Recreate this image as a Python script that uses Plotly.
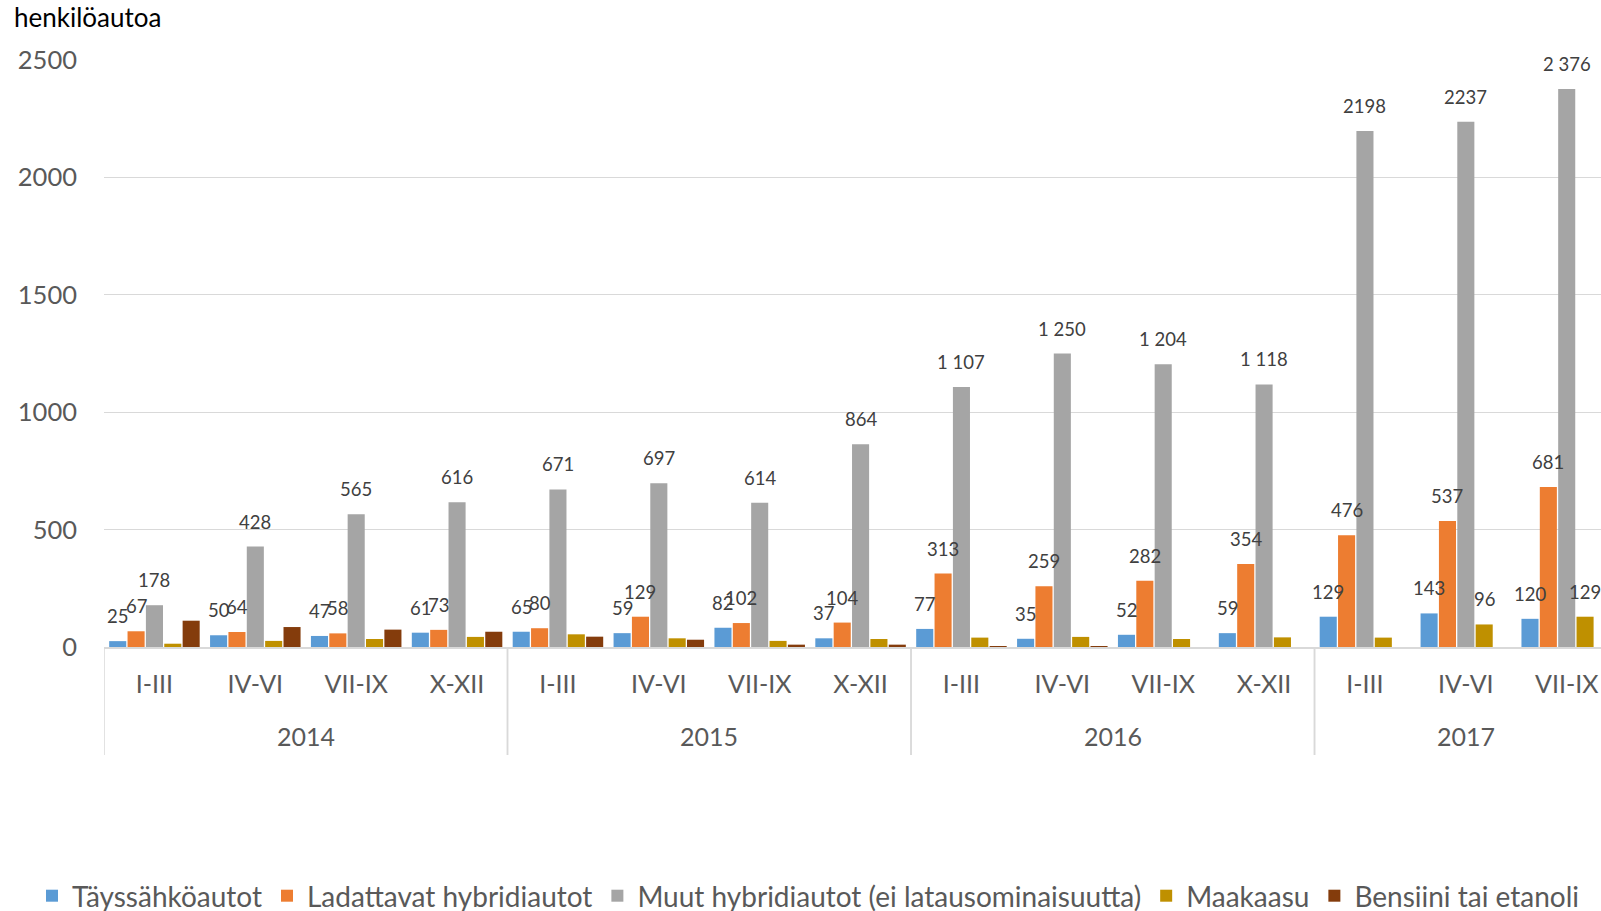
import plotly.graph_objects as go

# ---------------- data ----------------
years = ["2014"] * 4 + ["2015"] * 4 + ["2016"] * 4 + ["2017"] * 3
quarters = ["I-III", "IV-VI", "VII-IX", "X-XII"] * 3 + ["I-III", "IV-VI", "VII-IX"]

series_names = [
    "Täyssähköautot",
    "Ladattavat hybridiautot",
    "Muut hybridiautot (ei latausominaisuutta)",
    "Maakaasu",
    "Bensiini tai etanoli",
]
taysi = [25, 50, 47, 61, 65, 59, 82, 37, 77, 35, 52, 59, 129, 143, 120]
ladattavat = [67, 64, 58, 73, 80, 129, 102, 104, 313, 259, 282, 354, 476, 537, 681]
muut = [178, 428, 565, 616, 671, 697, 614, 864, 1107, 1250, 1204, 1118, 2198, 2237, 2376]
maakaasu = [14, 26, 34, 43, 54, 37, 26, 34, 40, 43, 34, 41, 40, 96, 129]
bensiini = [112, 85, 74, 65, 44, 31, 10, 10, 2, 2, 0, 0, 0, 0, 0]

labels_taysi = [str(v) for v in taysi]
labels_ladattavat = [str(v) for v in ladattavat]
labels_muut = ["178", "428", "565", "616", "671", "697", "614", "864",
               "1 107", "1 250", "1 204", "1 118", "2198", "2237", "2 376"]
labels_maakaasu = [""] * 13 + ["96", "129"]
labels_bensiini = [""] * 15

colors = ["#5B9BD5", "#ED7D31", "#A5A5A5", "#BF9000", "#843C0C"]
values = [taysi, ladattavat, muut, maakaasu, bensiini]
labels = [labels_taysi, labels_ladattavat, labels_muut, labels_maakaasu, labels_bensiini]

# ---------------- layout params ----------------
W, H = 1601, 911
ML, MR, MT, MB = 104, 0, 60, 264
BARGAP = 0.09
XRANGE = [-0.5, 14.34]
FONT = "Lato, Carlito, Calibri, sans-serif"
plot_w = W - ML - MR
plot_h = H - MT - MB


def py(px_from_top):
    """figure pixel row -> paper y"""
    return (H - MB - px_from_top) / plot_h


positions = list(range(len(quarters)))

fig = go.Figure()
for name, vals, col in zip(series_names, values, colors):
    fig.add_trace(go.Bar(
        name=name, x=positions, y=vals,
        marker=dict(color=col, line=dict(width=0)),
        hoverinfo="skip",
    ))

# data labels
px_per_unit = plot_w / (XRANGE[1] - XRANGE[0])
pitch_px = px_per_unit * (1 - BARGAP) / len(series_names)
annotations = []
for si, (vals, labs) in enumerate(zip(values, labels)):
    for pos, v, lab in zip(positions, vals, labs):
        if lab:
            annotations.append(dict(
                x=pos, y=v, xref="x", yref="y", text=lab, showarrow=False,
                yanchor="bottom", xanchor="center",
                xshift=(si - (len(series_names) - 1) / 2) * pitch_px, yshift=12,
                font=dict(family=FONT, size=18.5, color="#404040"),
            ))

# year labels and group dividers
year_order = []
for y in years:
    if y not in year_order:
        year_order.append(y)
shapes = []
for yr in year_order:
    idx = [p for p, y in zip(positions, years) if y == yr]
    annotations.append(dict(
        x=sum(idx) / len(idx), y=py(736), xref="x", yref="paper", text=yr,
        showarrow=False, xanchor="center", yanchor="middle",
        font=dict(family=FONT, size=25, color="#595959"),
    ))
    for b in (idx[0] - 0.5, idx[-1] + 0.5):
        shapes.append(dict(type="line", xref="x", yref="paper", x0=b, x1=b,
                           y0=0, y1=py(755), line=dict(color="#D9D9D9", width=1.5)))

annotations.append(dict(
    x=(12 - ML) / plot_w, y=py(17), xref="paper", yref="paper",
    text="henkilöautoa", showarrow=False, xanchor="left", yanchor="middle",
    font=dict(family=FONT, size=26, color="#000000"),
))

fig.update_layout(
    width=W, height=H,
    margin=dict(l=ML, r=MR, t=MT, b=MB, pad=0, autoexpand=False),
    paper_bgcolor="white", plot_bgcolor="white",
    barmode="group", bargap=BARGAP, bargroupgap=0.07,
    font=dict(family=FONT, color="#595959"),
    xaxis=dict(
        range=XRANGE, tickmode="array", tickvals=positions, ticktext=quarters,
        showline=True, linecolor="#D9D9D9", linewidth=1.5,
        showgrid=False, zeroline=False, ticks="",
        ticklabelstandoff=14,
        tickfont=dict(family=FONT, size=25, color="#595959"),
    ),
    yaxis=dict(
        range=[0, 2500], tickvals=[0, 500, 1000, 1500, 2000, 2500],
        showgrid=True, gridcolor="#D9D9D9", gridwidth=1.3,
        zeroline=False, showline=False, ticks="",
        ticklabelstandoff=26,
        tickfont=dict(family=FONT, size=25.5, color="#595959"),
    ),
    legend=dict(
        orientation="h", x=(32 - ML) / plot_w, xanchor="left",
        y=py(896), yanchor="middle",
        font=dict(family=FONT, size=28, color="#595959"),
        bgcolor="rgba(0,0,0,0)",
    ),
    annotations=annotations,
    shapes=shapes,
    showlegend=True,
)

fig.write_html("out.html", config={"displayModeBar": False},
               post_script="document.body.style.margin='0';document.body.style.overflow='hidden';")
